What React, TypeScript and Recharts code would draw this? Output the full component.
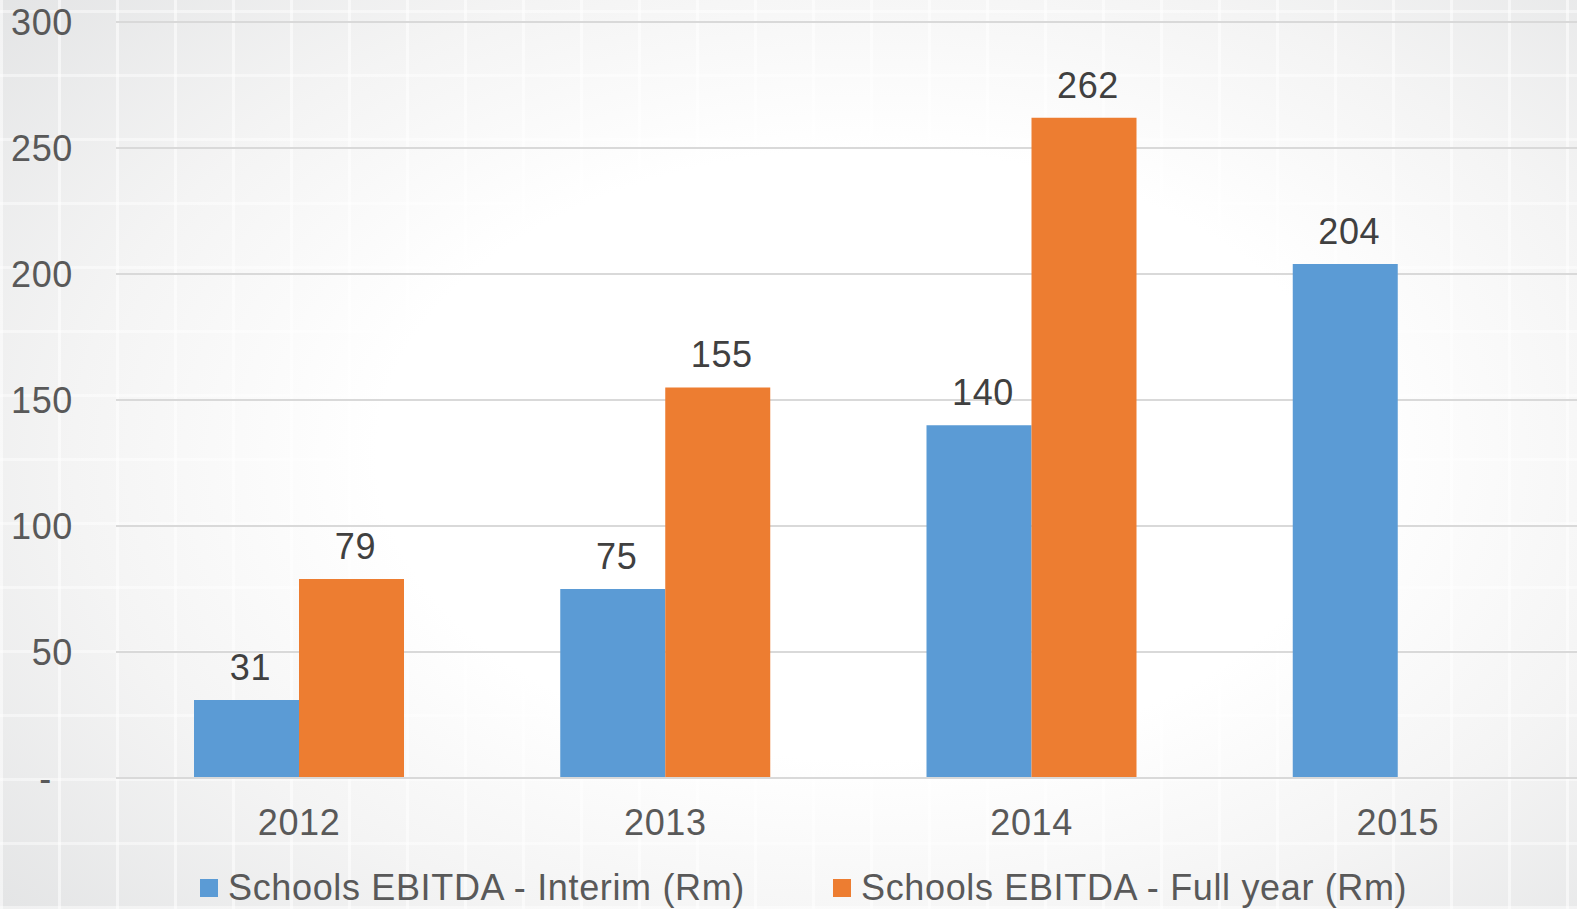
import React from "react";
import {
  BarChart,
  Bar,
  XAxis,
  YAxis,
  CartesianGrid,
  LabelList,
} from "recharts";

// Data
const YEARS = ["2012", "2013", "2014", "2015"];
const INTERIM = [31, 75, 140, 204];
const FULL_YEAR: (number | null)[] = [79, 155, 262, null];
const Y_TICKS = [0, 50, 100, 150, 200, 250, 300];

const SERIES = [
  { key: "interim", name: "Schools EBITDA - Interim (Rm)", color: "#5b9bd5" },
  { key: "fullYear", name: "Schools EBITDA - Full year (Rm)", color: "#ed7d31" },
];

const FONT = '"Liberation Sans", Arial, sans-serif';
const TEXT = "#595959";
const FS = 36;
const LS = 0.65;

const data = YEARS.map((year, i) => ({
  year,
  interim: INTERIM[i],
  fullYear: FULL_YEAR[i],
}));

// y tick: Excel accounting style, zero shown as a dash
function YTick(props: any) {
  const { x, y, payload } = props;
  const isZero = payload.value === 0;
  return (
    <text
      x={isZero ? x - 21 : x}
      y={y}
      dy="0.36em"
      textAnchor="end"
      fill={TEXT}
      fontSize={FS}
      letterSpacing={LS}
      fontFamily={FONT}
    >
      {isZero ? "-" : payload.value}
    </text>
  );
}

export default function App() {
  return (
    <div
      style={{
        position: "absolute",
        left: 0,
        top: 0,
        width: 1577,
        height: 909,
        overflow: "hidden",
        fontFamily: FONT,
        background:
          "repeating-linear-gradient(90deg, rgba(255,255,255,0.55) 0 3px, transparent 3px 58px), repeating-linear-gradient(0deg, rgba(255,255,255,0.45) 0 3px, transparent 3px 64px), radial-gradient(ellipse 74% 80% at 55% 50%, #ffffff 42%, #f4f4f4 68%, #e2e3e4 100%)",
      }}
    >
      <div style={{ position: "absolute", inset: 0 }}>
        <BarChart
          width={1590}
          height={909}
          data={data}
          margin={{ top: 22, right: 9, left: 0, bottom: 0 }}
          barGap={0}
          barSize={105}
        >
          <CartesianGrid vertical={false} stroke="#d9d9d9" strokeWidth={2} />
          <XAxis
            dataKey="year"
            height={131}
            tickLine={false}
            tickSize={0}
            tickMargin={31}
            axisLine={{ stroke: "#d9d9d9", strokeWidth: 2 }}
            tick={{ fill: TEXT, fontSize: FS, fontFamily: FONT, letterSpacing: LS }}
          />
          <YAxis
            width={116}
            domain={[0, 300]}
            ticks={Y_TICKS}
            tickLine={false}
            axisLine={false}
            tickSize={0}
            tickMargin={43}
            tick={<YTick />}
          />
          {SERIES.map((s) => (
            <Bar
              key={s.key}
              dataKey={s.key}
              name={s.name}
              fill={s.color}
              isAnimationActive={false}
            >
              <LabelList
                dataKey={s.key}
                position="top"
                offset={20}
                dx={4}
                fill="#404040"
                fontSize={FS}
                fontFamily={FONT}
                letterSpacing={LS}
              />
            </Bar>
          ))}
        </BarChart>
      </div>

      {/* Legend */}
      {SERIES.map((s, i) => (
        <div
          key={s.key}
          style={{
            position: "absolute",
            top: 870,
            left: i === 0 ? 200 : 833,
            height: 36,
            display: "flex",
            alignItems: "center",
            gap: 10,
            fontSize: FS,
            letterSpacing: LS,
            lineHeight: "36px",
            color: TEXT,
            whiteSpace: "nowrap",
          }}
        >
          <span
            style={{ width: 18, height: 18, background: s.color, display: "inline-block" }}
          />
          <span>{s.name}</span>
        </div>
      ))}
    </div>
  );
}
